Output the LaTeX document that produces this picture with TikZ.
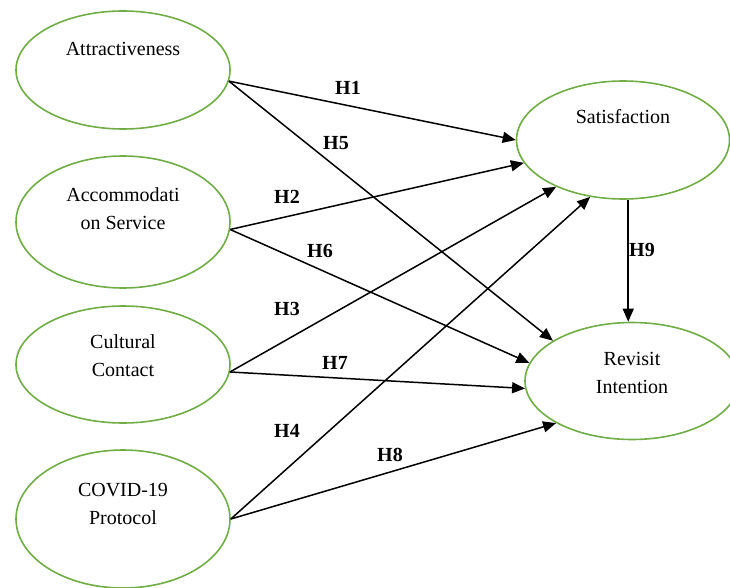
\documentclass[tikz,border=0pt]{standalone}
\usepackage{fontspec}
\setmainfont{Liberation Serif}
\usetikzlibrary{shapes.geometric,arrows.meta}
\definecolor{ovalgreen}{HTML}{70AD47}

\begin{document}
\begin{tikzpicture}[x=1pt,y=-1pt,
  oval/.style={ellipse,draw=ovalgreen,line width=1.6pt,minimum width=214pt,inner sep=0pt},
  txt/.style={font=\fontsize{20pt}{28pt}\selectfont,align=center,inner sep=0pt},
  hyp/.style={font=\fontsize{20pt}{24pt}\selectfont\bfseries,inner sep=0pt},
  arr/.style={-{Triangle[length=13pt,width=11pt]},line width=1.5pt}]
\useasboundingbox (0,0) rectangle (730,588);
\node[oval,minimum height=118pt,label={[txt,name=attrtext,yshift=21pt]center:Attractiveness}] (attr) at (123,70) {};
\node[oval,minimum height=132pt,label={[txt,name=acctext,yshift=13pt]center:{Accommodati\\on Service}}] (acc) at (123,222) {};
\node[oval,minimum height=117pt,label={[txt,name=culttext,yshift=9pt]center:{Cultural\\Contact}}] (cult) at (123,364.5) {};
\node[oval,minimum height=138pt,label={[txt,name=covidtext,yshift=15pt]center:{COVID-19\\Protocol}}] (covid) at (123,519) {};
\node[oval,minimum width=213pt,minimum height=118pt,label={[txt,name=sattext,yshift=23pt]center:Satisfaction}] (sat) at (623,140) {};
\node[oval,minimum height=117pt,label={[txt,name=revtext,yshift=8pt]center:{Revisit\\Intention}}] (rev) at (632,381) {};
\draw[arr] (attr.354) -- (sat.west);
\draw[arr] (attr.354) -- (rev.153);
\draw[arr] (acc.356) -- (sat.193);
\draw[arr] (acc.356) -- (rev.170);
\draw[arr] (cult.356) -- (sat.215);
\draw[arr] (cult.356) -- (rev.184);
\draw[arr] (covid.east) -- (sat.240);
\draw[arr] (covid.east) -- (rev.209);
\draw[arr] (sat.275) -- (sat.275 |- rev.north);
\node[hyp] (h1) at (348,88) {H1};
\node[hyp] (h5) at (336,143) {H5};
\node[hyp] (h2) at (287,197) {H2};
\node[hyp] (h6) at (320,251) {H6};
\node[hyp] (h3) at (287,309) {H3};
\node[hyp] (h7) at (335,363) {H7};
\node[hyp] (h4) at (287,431) {H4};
\node[hyp] (h8) at (390,455) {H8};
\node[hyp,anchor=west] (h9) at (629,250) {H9};
\end{tikzpicture}
\end{document}
